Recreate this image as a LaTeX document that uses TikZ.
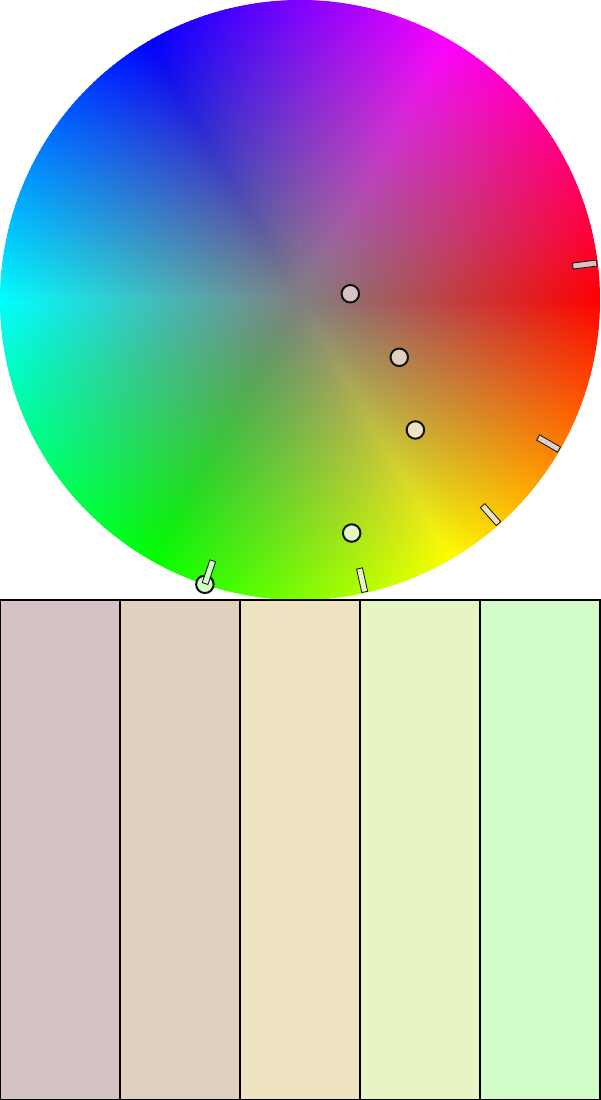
\documentclass[tikz,border=0pt]{standalone}
\usepackage{xcolor}
\usepackage{tikz}
\usetikzlibrary{fadings}
\definecolor{ink}{HTML}{111111}
\definecolor{wheelgrey}{HTML}{808080}
\definecolor{swatchA}{HTML}{D5C2C4}
\definecolor{swatchB}{HTML}{E0D0C0}
\definecolor{swatchC}{HTML}{EDE3C0}
\definecolor{swatchD}{HTML}{E6F5C3}
\definecolor{swatchE}{HTML}{D3FDC8}
\pgfdeclareradialshading{wheelfadeshade}{\pgfpointorigin}{color(0bp)=(white); color(25bp)=(black); color(50bp)=(black)}
\pgfdeclarefading{wheelfade}{\pgfuseshading{wheelfadeshade}}
\tikzset{
  pickdot/.style={circle, draw=ink, line width=2pt, inner sep=0pt, minimum size=17.5pt},
  rimtick/.style={rectangle, draw=ink, line width=0.8pt, inner sep=0pt, minimum width=24pt, minimum height=6pt},
  swatch/.style={rectangle, draw=black, line width=1.7pt, inner sep=0pt, minimum width=120pt, minimum height=500pt},
}

\begin{document}
\begin{tikzpicture}[x=1pt, y=-1pt]
  \useasboundingbox (0,0) rectangle (600,1100);
  \coordinate (hub) at (300,300);

  % hue wheel: one wedge per degree, hue runs clockwise from red
  \foreach \h in {0,...,359}{
    \definecolor{huecol}{Hsb}{\h,1,1}
    \fill[huecol] (hub) -- ++(\h-0.7:300) arc[start angle=\h-0.7, end angle=\h+0.7, radius=300] -- cycle;
  }
  \fill[wheelgrey, path fading=wheelfade] (hub) circle[radius=300];

  \begin{scope}[shift={(hub)}]
    \node[pickdot, fill=swatchA] (pickA) at (352.9:50.7) {};
    \node[pickdot, fill=swatchB] (pickB) at (30.0:114.6) {};
    \node[pickdot, fill=swatchC] (pickC) at (48.4:173.8) {};
    \node[pickdot, fill=swatchD] (pickD) at (77.5:238.7) {};
    \node[pickdot, fill=swatchE] (pickE) at (108.5:299.8) {};

    \node[rimtick, fill=swatchA, rotate=-352.9] (tickA) at (352.9:287) {};
    \node[rimtick, fill=swatchB, rotate=-30.0] (tickB) at (30.0:287) {};
    \node[rimtick, fill=swatchC, rotate=-48.4] (tickC) at (48.4:287) {};
    \node[rimtick, fill=swatchD, rotate=-77.5] (tickD) at (77.5:287) {};
    \node[rimtick, fill=swatchE, rotate=-108.5] (tickE) at (108.5:287) {};
  \end{scope}

  % palette strip
  \foreach \c [count=\i from 0] in {swatchA,swatchB,swatchC,swatchD,swatchE}
    \node[swatch, fill=\c] (sw\i) at (60+120*\i, 850) {};
\end{tikzpicture}
\end{document}
